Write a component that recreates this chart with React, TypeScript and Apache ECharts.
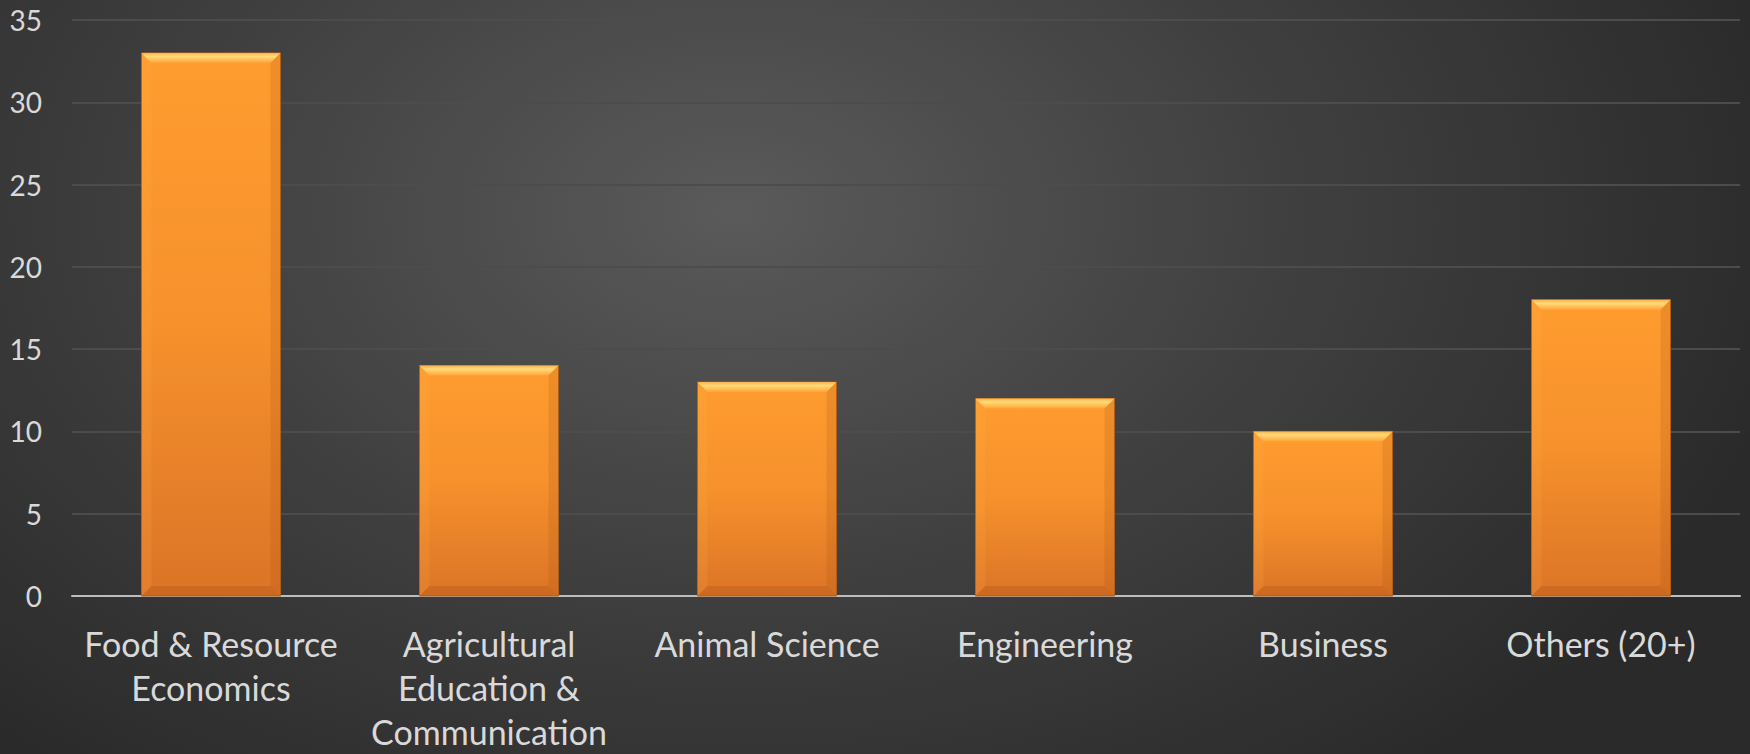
import React, { useEffect, useRef } from "react";
import * as echarts from "echarts";

// Majors and student counts
const categories = [
  "Food & Resource\nEconomics",
  "Agricultural\nEducation &\nCommunication",
  "Animal Science",
  "Engineering",
  "Business",
  "Others (20+)",
];
const counts = [33, 14, 13, 12, 10, 18];
const yTicks = { min: 0, max: 35, interval: 5 };

const BEVEL = 10;

function renderBevelBar(params: any, api: any) {
  const idx = api.value(0);
  const val = api.value(1);
  const top = api.coord([idx, val]);
  const base = api.coord([idx, 0]);
  const w = api.size([1, 0])[0] * 0.5;
  const x0 = top[0] - w / 2;
  const x1 = top[0] + w / 2;
  const y0 = top[1];
  const y1 = base[1];
  const b = Math.min(BEVEL, (y1 - y0) / 2);
  return {
    type: "group",
    children: [
      {
        type: "rect",
        shape: { x: x0, y: y0, width: x1 - x0, height: y1 - y0 },
        style: {
          fill: new echarts.graphic.LinearGradient(0, 0, 0, 1, [
            { offset: 0, color: "#ff9c2f" },
            { offset: 0.5, color: "#f6912c" },
            { offset: 1, color: "#dc7427" },
          ]),
          stroke: "#b0621c",
          lineWidth: 1,
        },
      },
      // top bevel
      {
        type: "polygon",
        shape: {
          points: [
            [x0, y0],
            [x1, y0],
            [x1 - b, y0 + b],
            [x0 + b, y0 + b],
          ],
        },
        style: {
          fill: new echarts.graphic.LinearGradient(0, 0, 0, 1, [
            { offset: 0, color: "#ffb04a" },
            { offset: 0.35, color: "#ffdc78" },
            { offset: 1, color: "#ffa43a" },
          ]),
        },
      },
      // left bevel
      {
        type: "polygon",
        shape: {
          points: [
            [x0, y0],
            [x0 + b, y0 + b],
            [x0 + b, y1 - b],
            [x0, y1],
          ],
        },
        style: { fill: "rgba(255,180,80,0.15)" },
      },
      // right bevel
      {
        type: "polygon",
        shape: {
          points: [
            [x1, y0],
            [x1 - b, y0 + b],
            [x1 - b, y1 - b],
            [x1, y1],
          ],
        },
        style: { fill: "rgba(160,80,15,0.18)" },
      },
      // bottom bevel
      {
        type: "polygon",
        shape: {
          points: [
            [x0, y1],
            [x1, y1],
            [x1 - b, y1 - b],
            [x0 + b, y1 - b],
          ],
        },
        style: { fill: "rgba(150,70,15,0.22)" },
      },
    ],
  };
}

export default function App() {
  const ref = useRef<HTMLDivElement>(null);

  useEffect(() => {
    document.body.style.margin = "0";
    if (!ref.current) return;
    const chart = echarts.init(ref.current, undefined, { renderer: "svg" });
    chart.setOption({
      animation: false,
      backgroundColor: "transparent",
      grid: {
        left: 72,
        right: 10,
        top: 20,
        bottom: 158,
        containLabel: false,
        outerBoundsMode: "none",
      },
      xAxis: {
        type: "category",
        data: categories,
        axisLine: { show: true, lineStyle: { color: "#bdbdbd", width: 2 } },
        axisTick: { show: false },
        axisLabel: {
          color: "#d9d9d9",
          fontFamily: "Lato",
          fontSize: 34,
          lineHeight: 44,
          margin: 25,
          interval: 0,
          align: "center",
        },
      },
      yAxis: {
        type: "value",
        min: yTicks.min,
        max: yTicks.max,
        interval: yTicks.interval,
        axisLine: { show: false },
        axisTick: { show: false },
        axisLabel: {
          color: "#d9d9d9",
          fontFamily: "Lato",
          fontSize: 28,
          margin: 30,
        },
        splitLine: { lineStyle: { color: "#4c4c4c", width: 2 } },
      },
      series: [
        {
          type: "custom",
          renderItem: renderBevelBar,
          data: counts.map((v, i) => [i, v]),
          encode: { x: 0, y: 1 },
          z: 3,
        },
      ],
    });
    return () => chart.dispose();
  }, []);

  return (
    <div
      ref={ref}
      style={{
        width: 1750,
        height: 754,
        background:
          "radial-gradient(ellipse 62% 95% at 42% 28%, #5a5a5a 0%, #404040 50%, #2a2a2a 100%)",
      }}
    />
  );
}
